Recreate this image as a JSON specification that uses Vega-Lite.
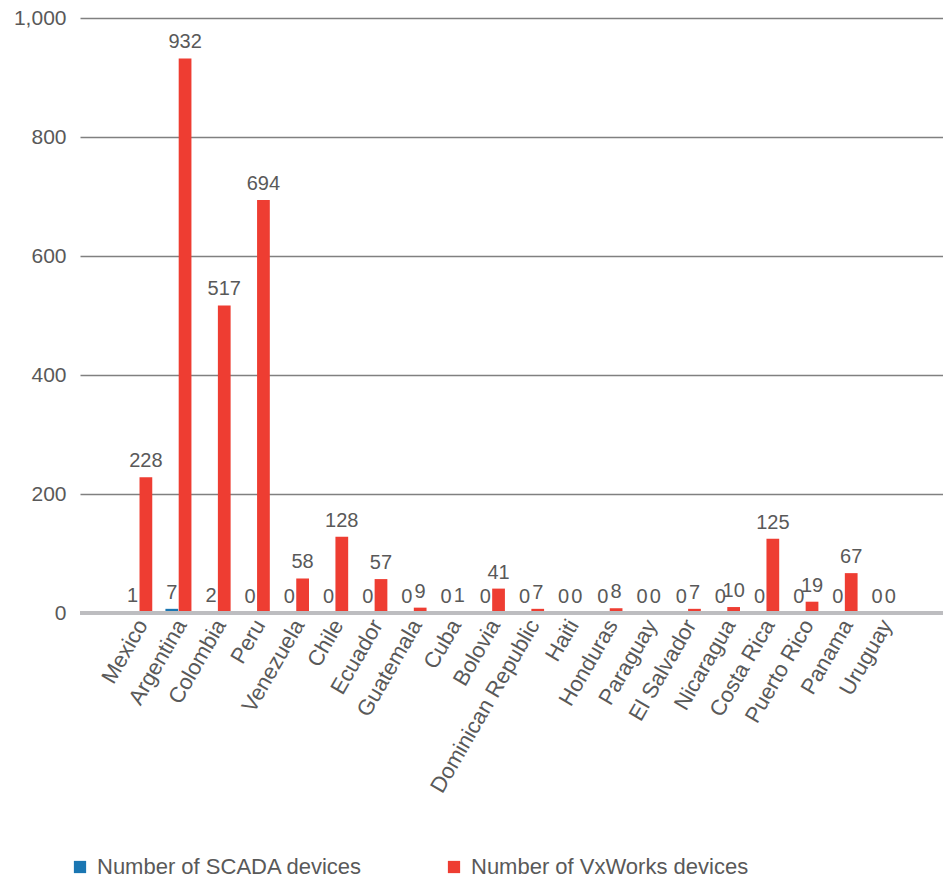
{
  "$schema": "https://vega.github.io/schema/vega-lite/v6.json",
  "width": 863,
  "height": 595,
  "autosize": {"type": "none"},
  "padding": {"left": 80, "top": 18, "right": 0, "bottom": 269},
  "background": "white",
  "config": {
    "view": {"stroke": null},
    "font": "Liberation Sans",
    "axis": {"labelFont": "Liberation Sans", "labelColor": "#595959"},
    "legend": {"labelFont": "Liberation Sans"}
  },
  "data": {
    "values": [
      {"country": "Mexico", "series": "Number of SCADA devices", "value": 1},
      {"country": "Mexico", "series": "Number of VxWorks devices", "value": 228},
      {"country": "Argentina", "series": "Number of SCADA devices", "value": 7},
      {"country": "Argentina", "series": "Number of VxWorks devices", "value": 932},
      {"country": "Colombia", "series": "Number of SCADA devices", "value": 2},
      {"country": "Colombia", "series": "Number of VxWorks devices", "value": 517},
      {"country": "Peru", "series": "Number of SCADA devices", "value": 0},
      {"country": "Peru", "series": "Number of VxWorks devices", "value": 694},
      {"country": "Venezuela", "series": "Number of SCADA devices", "value": 0},
      {"country": "Venezuela", "series": "Number of VxWorks devices", "value": 58},
      {"country": "Chile", "series": "Number of SCADA devices", "value": 0},
      {"country": "Chile", "series": "Number of VxWorks devices", "value": 128},
      {"country": "Ecuador", "series": "Number of SCADA devices", "value": 0},
      {"country": "Ecuador", "series": "Number of VxWorks devices", "value": 57},
      {"country": "Guatemala", "series": "Number of SCADA devices", "value": 0},
      {"country": "Guatemala", "series": "Number of VxWorks devices", "value": 9},
      {"country": "Cuba", "series": "Number of SCADA devices", "value": 0},
      {"country": "Cuba", "series": "Number of VxWorks devices", "value": 1},
      {"country": "Bolovia", "series": "Number of SCADA devices", "value": 0},
      {"country": "Bolovia", "series": "Number of VxWorks devices", "value": 41},
      {"country": "Dominican Republic", "series": "Number of SCADA devices", "value": 0},
      {"country": "Dominican Republic", "series": "Number of VxWorks devices", "value": 7},
      {"country": "Haiti", "series": "Number of SCADA devices", "value": 0},
      {"country": "Haiti", "series": "Number of VxWorks devices", "value": 0},
      {"country": "Honduras", "series": "Number of SCADA devices", "value": 0},
      {"country": "Honduras", "series": "Number of VxWorks devices", "value": 8},
      {"country": "Paraguay", "series": "Number of SCADA devices", "value": 0},
      {"country": "Paraguay", "series": "Number of VxWorks devices", "value": 0},
      {"country": "El Salvador", "series": "Number of SCADA devices", "value": 0},
      {"country": "El Salvador", "series": "Number of VxWorks devices", "value": 7},
      {"country": "Nicaragua", "series": "Number of SCADA devices", "value": 0},
      {"country": "Nicaragua", "series": "Number of VxWorks devices", "value": 10},
      {"country": "Costa Rica", "series": "Number of SCADA devices", "value": 0},
      {"country": "Costa Rica", "series": "Number of VxWorks devices", "value": 125},
      {"country": "Puerto Rico", "series": "Number of SCADA devices", "value": 0},
      {"country": "Puerto Rico", "series": "Number of VxWorks devices", "value": 19},
      {"country": "Panama", "series": "Number of SCADA devices", "value": 0},
      {"country": "Panama", "series": "Number of VxWorks devices", "value": 67},
      {"country": "Uruguay", "series": "Number of SCADA devices", "value": 0},
      {"country": "Uruguay", "series": "Number of VxWorks devices", "value": 0}
    ]
  },
  "encoding": {
    "x": {
      "field": "country",
      "type": "nominal",
      "scale": {
        "domain": ["", "Mexico", "Argentina", "Colombia", "Peru", "Venezuela", "Chile", "Ecuador", "Guatemala", "Cuba", "Bolovia", "Dominican Republic", "Haiti", "Honduras", "Paraguay", "El Salvador", "Nicaragua", "Costa Rica", "Puerto Rico", "Panama", "Uruguay", " "],
        "paddingInner": 0.336,
        "paddingOuter": 0.18
      },
      "axis": {
        "title": null,
        "labelAngle": -60,
        "labelFontSize": 22,
        "labelColor": "#595959",
        "ticks": false,
        "domain": false,
        "labelPadding": 8,
        "labelOffset": 3,
        "labelLimit": 300
      }
    },
    "xOffset": {
      "field": "series",
      "type": "nominal",
      "scale": {"paddingInner": 0.04}
    },
    "y": {
      "field": "value",
      "type": "quantitative",
      "scale": {"domain": [0, 1000]},
      "axis": {
        "title": null,
        "values": [0, 200, 400, 600, 800, 1000],
        "format": ",d",
        "labelFontSize": 21,
        "labelColor": "#595959",
        "labelPadding": 14,
        "ticks": false,
        "domain": false,
        "gridColor": "#808080",
        "gridWidth": 1.3
      }
    }
  },
  "layer": [
    {
      "mark": {"type": "bar"},
      "encoding": {
        "color": {
          "field": "series",
          "type": "nominal",
          "scale": {
            "domain": ["Number of SCADA devices", "Number of VxWorks devices"],
            "range": ["#1a76b2", "#ee3d32"]
          },
          "legend": {
            "title": null,
            "orient": "none",
            "direction": "horizontal",
            "columns": 2,
            "legendX": -11,
            "legendY": 838,
            "symbolType": "square",
            "symbolSize": 150,
            "symbolStrokeWidth": 0,
            "labelFontSize": 22,
            "labelColor": "#595959",
            "labelOffset": 6,
            "columnPadding": 80,
            "labelLimit": 400
          }
        }
      }
    },
    {
      "mark": {"type": "text", "dy": -10, "baseline": "alphabetic", "fontSize": 20, "color": "#595959", "font": "Liberation Sans"},
      "encoding": {
        "text": {"field": "value", "type": "quantitative"}
      }
    },
    {
      "mark": {"type": "rule", "color": "#bdbdc0", "strokeWidth": 4},
      "encoding": {
        "y": {"datum": 0},
        "x": null,
        "xOffset": null
      }
    }
  ]
}
